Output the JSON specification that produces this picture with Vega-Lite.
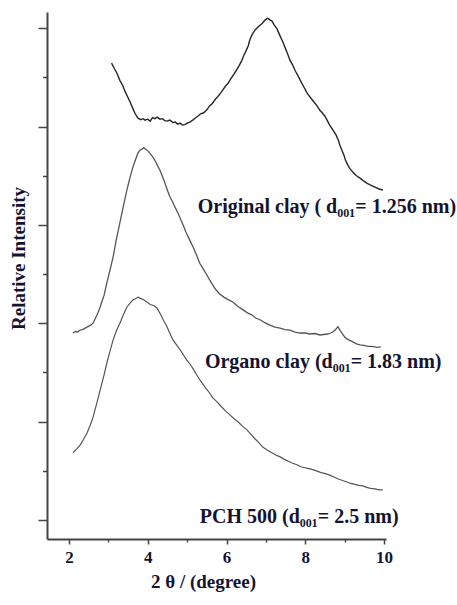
{
  "$schema": "https://vega.github.io/schema/vega-lite/v6.json",
  "autosize": {"type": "none"},
  "width": 339,
  "height": 527,
  "padding": {"left": 47, "top": 12, "right": 71, "bottom": 66},
  "background": "white",
  "config": {"view": {"stroke": null}},
  "datasets": {
    "curves": [
      {"s":"orig","x":3.08,"y":9.29},{"s":"orig","x":3.15,"y":9.18},{"s":"orig","x":3.22,"y":9.08},{"s":"orig","x":3.29,"y":8.94},{"s":"orig","x":3.36,"y":8.84},{"s":"orig","x":3.42,"y":8.72},{"s":"orig","x":3.49,"y":8.6},{"s":"orig","x":3.55,"y":8.5},{"s":"orig","x":3.62,"y":8.37},{"s":"orig","x":3.68,"y":8.26},{"s":"orig","x":3.75,"y":8.17},{"s":"orig","x":3.82,"y":8.14},{"s":"orig","x":3.88,"y":8.16},{"s":"orig","x":3.93,"y":8.13},{"s":"orig","x":4.0,"y":8.15},{"s":"orig","x":4.06,"y":8.11},{"s":"orig","x":4.12,"y":8.18},{"s":"orig","x":4.18,"y":8.16},{"s":"orig","x":4.24,"y":8.19},{"s":"orig","x":4.31,"y":8.15},{"s":"orig","x":4.37,"y":8.16},{"s":"orig","x":4.43,"y":8.12},{"s":"orig","x":4.49,"y":8.11},{"s":"orig","x":4.56,"y":8.13},{"s":"orig","x":4.64,"y":8.08},{"s":"orig","x":4.7,"y":8.09},{"s":"orig","x":4.76,"y":8.05},{"s":"orig","x":4.82,"y":8.07},{"s":"orig","x":4.88,"y":8.03},{"s":"orig","x":4.94,"y":8.04},{"s":"orig","x":5.0,"y":8.07},{"s":"orig","x":5.07,"y":8.09},{"s":"orig","x":5.14,"y":8.13},{"s":"orig","x":5.2,"y":8.17},{"s":"orig","x":5.27,"y":8.21},{"s":"orig","x":5.34,"y":8.26},{"s":"orig","x":5.42,"y":8.28},{"s":"orig","x":5.5,"y":8.34},{"s":"orig","x":5.57,"y":8.42},{"s":"orig","x":5.64,"y":8.47},{"s":"orig","x":5.71,"y":8.55},{"s":"orig","x":5.78,"y":8.61},{"s":"orig","x":5.85,"y":8.68},{"s":"orig","x":5.91,"y":8.75},{"s":"orig","x":5.98,"y":8.83},{"s":"orig","x":6.04,"y":8.88},{"s":"orig","x":6.09,"y":8.95},{"s":"orig","x":6.15,"y":9.02},{"s":"orig","x":6.2,"y":9.08},{"s":"orig","x":6.26,"y":9.16},{"s":"orig","x":6.32,"y":9.24},{"s":"orig","x":6.38,"y":9.33},{"s":"orig","x":6.44,"y":9.45},{"s":"orig","x":6.5,"y":9.55},{"s":"orig","x":6.55,"y":9.64},{"s":"orig","x":6.59,"y":9.76},{"s":"orig","x":6.65,"y":9.87},{"s":"orig","x":6.72,"y":9.96},{"s":"orig","x":6.78,"y":10.01},{"s":"orig","x":6.85,"y":10.06},{"s":"orig","x":6.91,"y":10.1},{"s":"orig","x":6.97,"y":10.16},{"s":"orig","x":7.02,"y":10.19},{"s":"orig","x":7.05,"y":10.2},{"s":"orig","x":7.1,"y":10.17},{"s":"orig","x":7.15,"y":10.15},{"s":"orig","x":7.21,"y":10.07},{"s":"orig","x":7.28,"y":9.99},{"s":"orig","x":7.35,"y":9.86},{"s":"orig","x":7.43,"y":9.72},{"s":"orig","x":7.5,"y":9.58},{"s":"orig","x":7.56,"y":9.46},{"s":"orig","x":7.61,"y":9.35},{"s":"orig","x":7.68,"y":9.25},{"s":"orig","x":7.74,"y":9.14},{"s":"orig","x":7.81,"y":9.04},{"s":"orig","x":7.88,"y":8.93},{"s":"orig","x":7.96,"y":8.81},{"s":"orig","x":8.04,"y":8.69},{"s":"orig","x":8.12,"y":8.6},{"s":"orig","x":8.22,"y":8.5},{"s":"orig","x":8.3,"y":8.42},{"s":"orig","x":8.37,"y":8.33},{"s":"orig","x":8.44,"y":8.27},{"s":"orig","x":8.5,"y":8.21},{"s":"orig","x":8.56,"y":8.12},{"s":"orig","x":8.62,"y":8.03},{"s":"orig","x":8.7,"y":7.93},{"s":"orig","x":8.78,"y":7.83},{"s":"orig","x":8.84,"y":7.72},{"s":"orig","x":8.88,"y":7.62},{"s":"orig","x":8.93,"y":7.52},{"s":"orig","x":8.98,"y":7.42},{"s":"orig","x":9.02,"y":7.32},{"s":"orig","x":9.07,"y":7.23},{"s":"orig","x":9.13,"y":7.15},{"s":"orig","x":9.21,"y":7.07},{"s":"orig","x":9.3,"y":7.0},{"s":"orig","x":9.39,"y":6.95},{"s":"orig","x":9.47,"y":6.9},{"s":"orig","x":9.56,"y":6.85},{"s":"orig","x":9.66,"y":6.81},{"s":"orig","x":9.77,"y":6.77},{"s":"orig","x":9.87,"y":6.73},{"s":"orig","x":9.97,"y":6.71},
      {"s":"organo","x":2.1,"y":3.8},{"s":"organo","x":2.16,"y":3.83},{"s":"organo","x":2.22,"y":3.82},{"s":"organo","x":2.28,"y":3.86},{"s":"organo","x":2.34,"y":3.87},{"s":"organo","x":2.41,"y":3.9},{"s":"organo","x":2.48,"y":3.93},{"s":"organo","x":2.55,"y":3.96},{"s":"organo","x":2.61,"y":4.0},{"s":"organo","x":2.67,"y":4.1},{"s":"organo","x":2.73,"y":4.2},{"s":"organo","x":2.79,"y":4.33},{"s":"organo","x":2.84,"y":4.45},{"s":"organo","x":2.89,"y":4.57},{"s":"organo","x":2.96,"y":4.82},{"s":"organo","x":3.04,"y":5.08},{"s":"organo","x":3.12,"y":5.35},{"s":"organo","x":3.2,"y":5.7},{"s":"organo","x":3.29,"y":6.04},{"s":"organo","x":3.38,"y":6.38},{"s":"organo","x":3.47,"y":6.71},{"s":"organo","x":3.55,"y":6.97},{"s":"organo","x":3.62,"y":7.17},{"s":"organo","x":3.69,"y":7.33},{"s":"organo","x":3.75,"y":7.46},{"s":"organo","x":3.8,"y":7.52},{"s":"organo","x":3.85,"y":7.54},{"s":"organo","x":3.9,"y":7.57},{"s":"organo","x":3.93,"y":7.55},{"s":"organo","x":3.98,"y":7.52},{"s":"organo","x":4.02,"y":7.49},{"s":"organo","x":4.06,"y":7.45},{"s":"organo","x":4.12,"y":7.39},{"s":"organo","x":4.19,"y":7.3},{"s":"organo","x":4.25,"y":7.2},{"s":"organo","x":4.31,"y":7.11},{"s":"organo","x":4.38,"y":6.97},{"s":"organo","x":4.44,"y":6.84},{"s":"organo","x":4.5,"y":6.7},{"s":"organo","x":4.56,"y":6.57},{"s":"organo","x":4.63,"y":6.47},{"s":"organo","x":4.69,"y":6.36},{"s":"organo","x":4.76,"y":6.25},{"s":"organo","x":4.82,"y":6.14},{"s":"organo","x":4.9,"y":5.99},{"s":"organo","x":4.97,"y":5.85},{"s":"organo","x":5.06,"y":5.7},{"s":"organo","x":5.15,"y":5.55},{"s":"organo","x":5.24,"y":5.38},{"s":"organo","x":5.32,"y":5.22},{"s":"organo","x":5.41,"y":5.1},{"s":"organo","x":5.5,"y":4.98},{"s":"organo","x":5.6,"y":4.84},{"s":"organo","x":5.71,"y":4.7},{"s":"organo","x":5.82,"y":4.6},{"s":"organo","x":5.93,"y":4.53},{"s":"organo","x":6.04,"y":4.48},{"s":"organo","x":6.16,"y":4.43},{"s":"organo","x":6.29,"y":4.34},{"s":"organo","x":6.42,"y":4.27},{"s":"organo","x":6.53,"y":4.21},{"s":"organo","x":6.64,"y":4.17},{"s":"organo","x":6.75,"y":4.1},{"s":"organo","x":6.85,"y":4.07},{"s":"organo","x":6.97,"y":4.01},{"s":"organo","x":7.1,"y":3.96},{"s":"organo","x":7.23,"y":3.92},{"s":"organo","x":7.36,"y":3.9},{"s":"organo","x":7.48,"y":3.87},{"s":"organo","x":7.61,"y":3.86},{"s":"organo","x":7.74,"y":3.82},{"s":"organo","x":7.86,"y":3.8},{"s":"organo","x":7.99,"y":3.8},{"s":"organo","x":8.12,"y":3.78},{"s":"organo","x":8.24,"y":3.79},{"s":"organo","x":8.37,"y":3.76},{"s":"organo","x":8.47,"y":3.77},{"s":"organo","x":8.57,"y":3.78},{"s":"organo","x":8.64,"y":3.8},{"s":"organo","x":8.7,"y":3.82},{"s":"organo","x":8.77,"y":3.87},{"s":"organo","x":8.83,"y":3.93},{"s":"organo","x":8.88,"y":3.86},{"s":"organo","x":8.93,"y":3.8},{"s":"organo","x":9.0,"y":3.72},{"s":"organo","x":9.06,"y":3.68},{"s":"organo","x":9.13,"y":3.65},{"s":"organo","x":9.21,"y":3.62},{"s":"organo","x":9.3,"y":3.58},{"s":"organo","x":9.39,"y":3.56},{"s":"organo","x":9.49,"y":3.55},{"s":"organo","x":9.59,"y":3.53},{"s":"organo","x":9.7,"y":3.53},{"s":"organo","x":9.82,"y":3.51},{"s":"organo","x":9.92,"y":3.52},
      {"s":"pch","x":2.1,"y":1.36},{"s":"pch","x":2.19,"y":1.44},{"s":"pch","x":2.28,"y":1.52},{"s":"pch","x":2.37,"y":1.64},{"s":"pch","x":2.46,"y":1.77},{"s":"pch","x":2.54,"y":1.93},{"s":"pch","x":2.61,"y":2.09},{"s":"pch","x":2.7,"y":2.36},{"s":"pch","x":2.79,"y":2.64},{"s":"pch","x":2.88,"y":2.92},{"s":"pch","x":2.96,"y":3.19},{"s":"pch","x":3.04,"y":3.43},{"s":"pch","x":3.12,"y":3.66},{"s":"pch","x":3.2,"y":3.84},{"s":"pch","x":3.29,"y":4.0},{"s":"pch","x":3.38,"y":4.17},{"s":"pch","x":3.47,"y":4.33},{"s":"pch","x":3.55,"y":4.41},{"s":"pch","x":3.62,"y":4.47},{"s":"pch","x":3.7,"y":4.5},{"s":"pch","x":3.75,"y":4.53},{"s":"pch","x":3.8,"y":4.51},{"s":"pch","x":3.86,"y":4.49},{"s":"pch","x":3.92,"y":4.46},{"s":"pch","x":3.98,"y":4.43},{"s":"pch","x":4.06,"y":4.38},{"s":"pch","x":4.15,"y":4.36},{"s":"pch","x":4.23,"y":4.31},{"s":"pch","x":4.31,"y":4.2},{"s":"pch","x":4.39,"y":4.07},{"s":"pch","x":4.47,"y":3.96},{"s":"pch","x":4.55,"y":3.81},{"s":"pch","x":4.64,"y":3.66},{"s":"pch","x":4.73,"y":3.56},{"s":"pch","x":4.82,"y":3.46},{"s":"pch","x":4.9,"y":3.36},{"s":"pch","x":4.99,"y":3.25},{"s":"pch","x":5.08,"y":3.16},{"s":"pch","x":5.16,"y":3.06},{"s":"pch","x":5.24,"y":2.95},{"s":"pch","x":5.32,"y":2.85},{"s":"pch","x":5.4,"y":2.76},{"s":"pch","x":5.48,"y":2.67},{"s":"pch","x":5.57,"y":2.58},{"s":"pch","x":5.65,"y":2.48},{"s":"pch","x":5.76,"y":2.4},{"s":"pch","x":5.87,"y":2.3},{"s":"pch","x":5.98,"y":2.21},{"s":"pch","x":6.09,"y":2.13},{"s":"pch","x":6.2,"y":2.05},{"s":"pch","x":6.31,"y":1.98},{"s":"pch","x":6.41,"y":1.9},{"s":"pch","x":6.52,"y":1.83},{"s":"pch","x":6.62,"y":1.74},{"s":"pch","x":6.72,"y":1.65},{"s":"pch","x":6.82,"y":1.57},{"s":"pch","x":6.92,"y":1.48},{"s":"pch","x":7.03,"y":1.42},{"s":"pch","x":7.14,"y":1.37},{"s":"pch","x":7.25,"y":1.32},{"s":"pch","x":7.36,"y":1.28},{"s":"pch","x":7.47,"y":1.23},{"s":"pch","x":7.57,"y":1.19},{"s":"pch","x":7.68,"y":1.15},{"s":"pch","x":7.79,"y":1.12},{"s":"pch","x":7.89,"y":1.08},{"s":"pch","x":7.99,"y":1.06},{"s":"pch","x":8.09,"y":1.04},{"s":"pch","x":8.19,"y":1.02},{"s":"pch","x":8.3,"y":0.99},{"s":"pch","x":8.4,"y":0.96},{"s":"pch","x":8.51,"y":0.94},{"s":"pch","x":8.62,"y":0.91},{"s":"pch","x":8.73,"y":0.87},{"s":"pch","x":8.84,"y":0.83},{"s":"pch","x":8.95,"y":0.8},{"s":"pch","x":9.06,"y":0.77},{"s":"pch","x":9.16,"y":0.74},{"s":"pch","x":9.26,"y":0.72},{"s":"pch","x":9.36,"y":0.7},{"s":"pch","x":9.46,"y":0.69},{"s":"pch","x":9.56,"y":0.66},{"s":"pch","x":9.66,"y":0.64},{"s":"pch","x":9.77,"y":0.63},{"s":"pch","x":9.87,"y":0.61},{"s":"pch","x":9.97,"y":0.61}
    ],
    "labels": [
      {"label": "Original clay ( d₀₀₁= 1.256 nm)", "x": 5.27, "y": 6.36},
      {"label": "Organo clay (d₀₀₁= 1.83 nm)", "x": 5.45, "y": 3.21},
      {"label": "PCH 500 (d₀₀₁= 2.5 nm)", "x": 5.32, "y": 0.06}
    ]
  },
  "layer": [
    {
      "data": {"name": "curves"},
      "mark": {"type": "line", "interpolate": "linear"},
      "encoding": {
        "x": {
          "field": "x", "type": "quantitative",
          "scale": {"domain": [1.44, 10.05], "nice": false, "zero": false},
          "axis": {
            "values": [2, 3, 4, 5, 6, 7, 8, 9, 10],
            "labelExpr": "datum.value % 2 === 0 ? datum.label : ''",
            "title": "2 θ / (degree)",
            "titleFont": "Liberation Serif", "titleFontSize": 19, "titleFontWeight": "bold", "titleColor": "#141432",
            "titleX": 156, "titlePadding": 7,
            "labelFont": "Liberation Serif", "labelFontSize": 17, "labelFontWeight": "bold", "labelColor": "#141432",
            "labelPadding": 5,
            "domainColor": "#444", "domainWidth": 2,
            "tickColor": "#444", "tickWidth": 1.5,
            "tickSize": {"condition": {"test": "datum.value % 2 === 0", "value": 5}, "value": 3},
            "grid": false
          }
        },
        "y": {
          "field": "y", "type": "quantitative",
          "scale": {"domain": [-0.39, 10.33], "nice": false, "zero": false},
          "axis": {
            "values": [0, 1, 2, 3, 4, 5, 6, 7, 8, 9, 10],
            "labels": false,
            "title": "Relative Intensity",
            "titleFont": "Liberation Serif", "titleFontSize": 19, "titleFontWeight": "bold", "titleColor": "#141432",
            "titlePadding": 9, "titleY": 246,
            "domainColor": "#444", "domainWidth": 2,
            "tickColor": "#444", "tickWidth": 1.5,
            "tickSize": {"condition": {"test": "datum.value % 2 === 0", "value": 9}, "value": 4.5},
            "grid": false
          }
        },
        "detail": {"field": "s"},
        "color": {"field": "s", "type": "nominal", "scale": {"domain": ["orig", "organo", "pch"], "range": ["#262626", "#555555", "#555555"]}, "legend": null},
        "strokeWidth": {"field": "s", "type": "nominal", "scale": {"domain": ["orig", "organo", "pch"], "range": [1.4, 1.2, 1.2]}, "legend": null}
      }
    },
    {
      "data": {"name": "labels"},
      "mark": {"type": "text", "align": "left", "baseline": "middle", "font": "Liberation Serif", "fontSize": 20, "fontWeight": "bold", "color": "#141432"},
      "encoding": {
        "x": {"field": "x", "type": "quantitative"},
        "y": {"field": "y", "type": "quantitative"},
        "text": {"field": "label"}
      }
    }
  ]
}
